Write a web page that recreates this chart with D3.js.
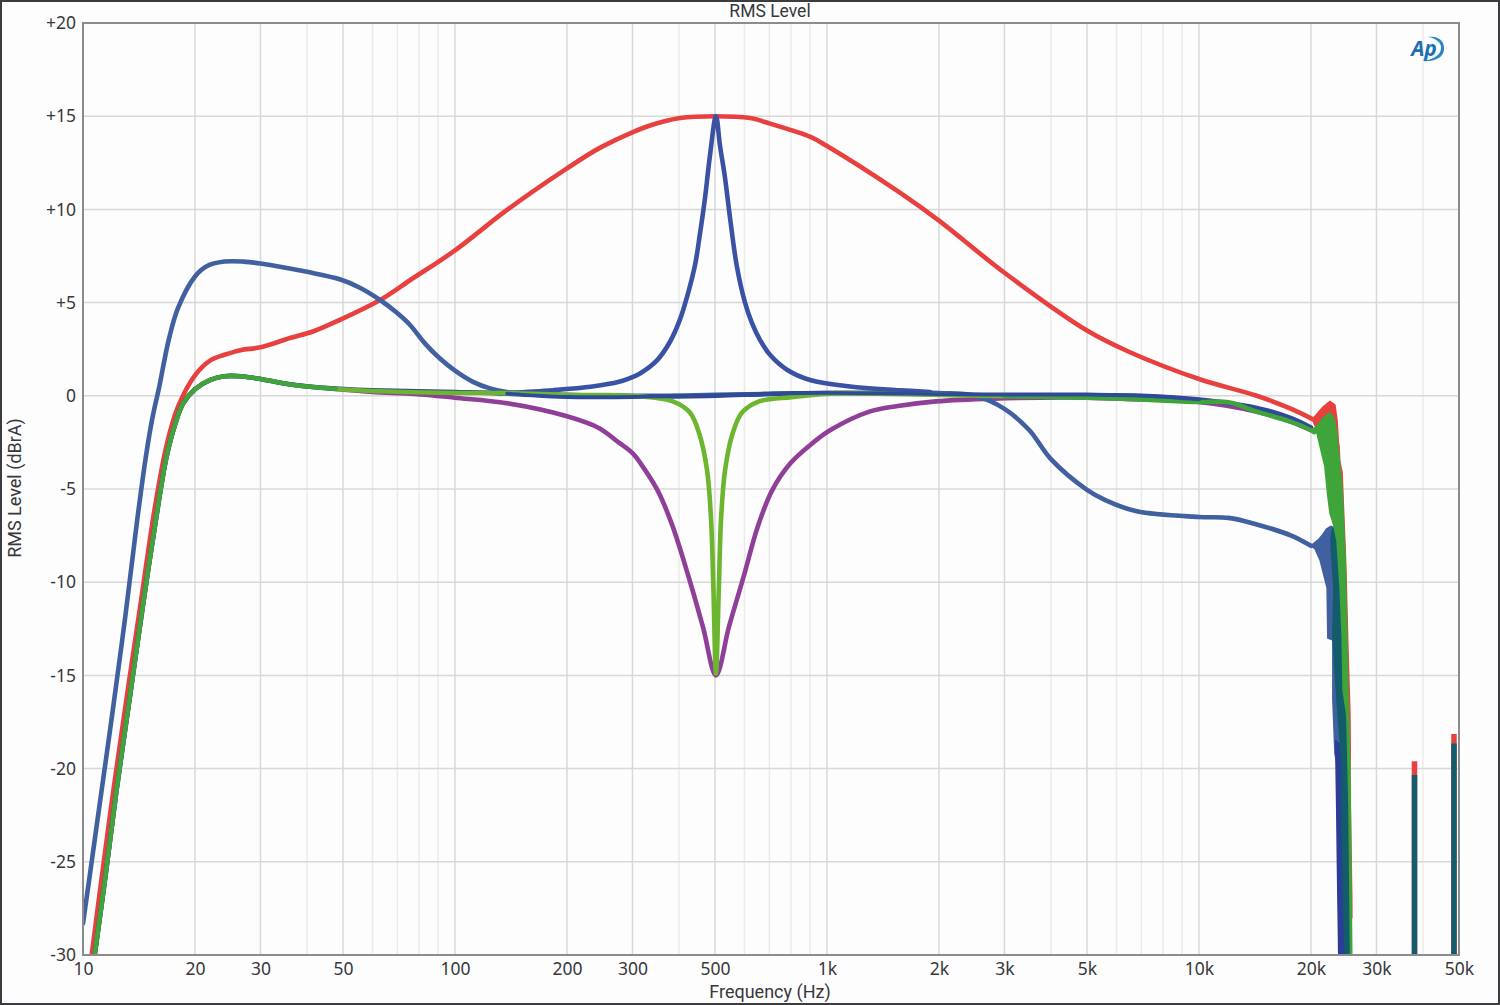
<!DOCTYPE html>
<html>
<head>
<meta charset="utf-8">
<title>RMS Level</title>
<script src="https://cdn.jsdelivr.net/npm/d3@7"></script>
<style>
  html, body { margin: 0; padding: 0; background: #fdfdfd; }
  svg { display: block; }
  text { font-family: "Noto Sans", "Open Sans", sans-serif; fill: #37373c; }
</style>
</head>
<body>
<svg id="chart" width="1500" height="1005"></svg>
<script>
// Axis ticks
const labelledFreqs = [10, 20, 30, 50, 100, 200, 300, 500, 1000, 2000, 3000, 5000, 10000, 20000, 30000, 50000];
const minorFreqs = [40, 60, 70, 80, 90, 400, 600, 700, 800, 900, 4000, 6000, 7000, 8000, 9000, 40000];
const levelTicks = [20, 15, 10, 5, 0, -5, -10, -15, -20, -25, -30];

// Bass and treble shelf trace
const shelfFreq = [10, 10.4, 11, 12, 13, 14, 14.8, 15.4, 16, 17, 18, 20, 21.5, 24, 27, 30, 40, 49, 55.5, 62.9, 69.8, 75.7, 83.1, 91.1, 100, 111.8, 124.2, 138, 200, 300, 500, 1000, 2000, 2500, 3000, 3500, 4000, 5000, 5600, 6800, 10000, 12000, 14300, 17700, 20000];
const shelfDb = [-28.3, -25.9, -22.4, -17, -11.8, -6.6, -3.1, -1.1, 0.4, 3, 4.7, 6.4, 6.95, 7.2, 7.2, 7.1, 6.65, 6.25, 5.8, 5.14, 4.45, 3.8, 2.8, 2, 1.35, 0.75, 0.4, 0.2, 0.05, 0, 0.05, 0.15, 0.15, 0, -0.7, -1.85, -3.4, -5.05, -5.6, -6.2, -6.5, -6.55, -6.9, -7.5, -8.05];

// Wide boost trace
const wideBoostFreq = [10.55, 11.2, 12.1, 13.1, 14.2, 15.6, 16.8, 18, 20, 22, 24, 26.5, 30, 36, 41.5, 49, 62.9, 75.7, 100, 138, 200, 245, 301, 334.4, 402.6, 500, 621, 702.7, 900, 1000, 1570, 2000, 3000, 5000, 6500, 10000, 14300, 17700, 20200];
const wideBoostDb = [-30, -26, -21, -16.2, -11.5, -6, -2.6, -0.6, 1.1, 1.9, 2.2, 2.45, 2.6, 3.1, 3.45, 4.07, 5.14, 6.2, 7.8, 9.97, 12.2, 13.3, 14.15, 14.5, 14.9, 15, 14.9, 14.6, 13.9, 13.4, 10.9, 9.4, 6.6, 3.5, 2.35, 0.9, 0, -0.7, -1.25];

// Narrow boost trace, joining the flat response on either side
const narrowBoostFreq = [138, 183, 234, 276, 295.4, 314.3, 349.1, 378.4, 402.6, 420.4, 441.7, 455.6, 469.9, 484.7, 503, 515.8, 531.9, 548.7, 572.9, 602, 628.6, 660.5, 702.7, 780.6, 900.2, 1153, 1571, 1892];
const narrowBoostDb = [0.15, 0.3, 0.5, 0.75, 0.95, 1.2, 1.9, 2.9, 4.1, 5.3, 7, 8.7, 10.6, 12.9, 15, 13.4, 11.7, 9.55, 6.9, 5, 3.9, 3, 2.2, 1.4, 0.85, 0.5, 0.3, 0.2];

// Wide cut trace
const wideCutFreq = [10.75, 11.45, 12.3, 13.4, 14.5, 16, 16.8, 17.9, 18.6, 20, 22, 24, 26.5, 30, 35.5, 41.5, 49, 60, 78, 100, 138, 200, 245, 271, 301, 316, 351, 383, 423, 464, 503, 545, 595, 652, 711, 795, 900, 1019, 1300, 1550, 1960, 2800, 5000, 7000, 10000, 14300, 17700, 20000];
const wideCutDb = [-30, -26, -21.2, -16, -11.2, -5.6, -3.2, -1.2, -0.4, 0.35, 0.85, 1.05, 1.05, 0.9, 0.63, 0.47, 0.35, 0.2, 0.1, -0.1, -0.4, -1.1, -1.75, -2.4, -3.1, -3.65, -5.1, -6.9, -9.6, -12.4, -15, -12.4, -9.8, -7, -5.1, -3.65, -2.65, -1.85, -0.85, -0.55, -0.3, -0.15, -0.1, -0.2, -0.33, -0.85, -1.4, -1.85];

// Flat reference trace
const flatFreq = [10.75, 11.45, 12.3, 13.4, 14.5, 16, 16.8, 17.9, 18.6, 20, 22, 24, 26.5, 30, 35.5, 41.5, 49, 60, 100, 138, 200, 300, 500, 700, 1000, 3000, 5000, 7000, 10000, 14300, 17700, 20000];
const flatDb = [-30, -26, -21.2, -16, -11.2, -5.6, -3.2, -1.2, -0.4, 0.35, 0.85, 1.05, 1.05, 0.9, 0.63, 0.47, 0.38, 0.3, 0.2, 0.12, -0.05, -0.05, 0, 0.1, 0.15, 0.05, 0.05, 0, -0.2, -0.65, -1.2, -1.7];
const flatTopFreq = [138, 200, 300, 500, 700, 1000, 3000, 5000, 7000, 10000];
const flatTopDb = [0.12, -0.05, -0.05, 0, 0.1, 0.15, 0.05, 0.05, 0, -0.2];

// Narrow cut trace, split where its colour shifts
const greenLowFreq = [10.75, 11.45, 12.3, 13.4, 14.5, 16, 16.8, 17.9, 18.6, 20, 22, 24, 26.5, 30, 35.5, 41.5, 49];
const greenLowDb = [-30, -26, -21.2, -16, -11.2, -5.6, -3.2, -1.2, -0.4, 0.35, 0.85, 1.05, 1.05, 0.9, 0.63, 0.47, 0.35];
const greenMidFreq = [49, 60, 100, 138, 207, 300, 385, 428, 453, 476, 488, 495, 503, 512, 519, 532, 558, 591, 657, 803, 1000, 1500, 2000, 3000];
const greenMidDb = [0.35, 0.26, 0.15, 0.15, 0.04, 0, -0.3, -0.9, -2, -4, -6.65, -10.3, -14.9, -10.3, -6.65, -4, -2, -0.9, -0.3, -0.07, 0.1, 0.1, 0.05, -0.02];
const greenHighFreq = [3000, 5000, 7000, 10000, 12000, 14300, 17700, 20000, 20400];
const greenHighDb = [-0.02, -0.1, -0.2, -0.33, -0.35, -0.85, -1.4, -1.85, -1.95];

// Outlines of the ripple where the traces fall away past 20 kHz
const redRippleFreq = [20.2, 21.55, 22.5, 23.2, 23.5, 23.7, 23.8, 23.9, 24.25, 24.4, 24.7, 24.85, 25.0, 25.1, 25.45, 25.5, 25.45, 25.75, 25.75, 25.3, 24.7, 24.0, 23.0, 21.5, 20.5];
const redRippleDb = [-1.25, -0.6, -0.3, -0.5, -1.3, -2.5, -2.7, -3.5, -4.1, -5.5, -8.1, -9.5, -11.7, -13, -17, -19, -20.6, -27, -28, -20, -10, -5, -3, -2.2, -1.6];
const shelfRippleFreq = [20.0, 20.4, 21.0, 21.6, 22.0, 22.6, 23.2, 24.5, 25.0, 25.15, 25.3, 25.0, 24.2, 23.2, 22.9, 22.9, 22.2, 22.1, 21.15, 20.5];
const shelfRippleDb = [-8.05, -7.9, -7.7, -7.4, -7.15, -7.0, -7.1, -12, -15, -17, -22, -22, -21, -19.2, -16.3, -13.1, -13, -10.3, -8.8, -8.2];
const navyRippleFreq = [23.3, 24.25, 24.25, 24.45, 24.75, 23.75, 23.55, 23.45];
const navyRippleDb = [-18.5, -18.8, -25, -27, -30, -30, -25, -22];
const tealRippleFreq = [22.9, 23.4, 24.5, 25.0, 25.45, 25.6, 24.7, 24.4, 24.25, 24.25, 23.5, 22.9, 23.05, 22.6];
const tealRippleDb = [-7.1, -7.1, -12, -18, -25, -30, -30, -26, -23.5, -20, -16.3, -12.9, -10.3, -7.7];
const greenRippleFreq = [20.0, 20.4, 20.75, 21.55, 22.5, 23.2, 23.5, 24.25, 24.7, 25.0, 25.15, 25.45, 25.75, 25.55, 25.3, 25.0, 24.9, 24.4, 24.25, 23.95, 23.5, 23.0, 22.5, 22.2, 21.8, 21.15, 20.75, 20.4];
const greenRippleDb = [-1.85, -1.75, -1.6, -1.2, -0.9, -1.3, -2.2, -4.9, -8.6, -13, -15.8, -20, -30, -30, -22, -17.5, -17, -15.8, -12.9, -10.3, -7.8, -6.9, -6.3, -5.4, -3.8, -2.7, -2.0, -1.9];

// Isolated out-of-band components
const spikeFreq = [37960, 48470];
const spikeRedDb = [-19.6, -18.15];
const spikeTealDb = [-20.35, -18.65];
const floorDb = -30;

const colors = {
  red: "#e8403f", shelf: "#41609f", boost: "#3a52a4", purple: "#8f3f97",
  navy: "#2f4a97", greenMid: "#6cb52e", greenDark: "#3fa53a",
  teal: "#135c6c", deepNavy: "#2b3d96"
};

const svg = d3.select("#chart");
const plot = { left: 83, right: 1459, top: 23, bottom: 955 };

const x = d3.scaleLog().domain([10, 50000]).range([plot.left, plot.right]);
const y = d3.scaleLinear().domain([-30, 20]).range([plot.bottom, plot.top]);

// Outer window border
svg.append("rect").attr("x", 1).attr("y", 1).attr("width", 1498).attr("height", 1003)
  .attr("fill", "#fdfdfd").attr("stroke", "#3c3c40").attr("stroke-width", 2);

// Grid
const grid = svg.append("g");
grid.selectAll(".minor").data(minorFreqs).join("line").attr("class", "minor")
  .attr("x1", d => x(d)).attr("x2", d => x(d)).attr("y1", plot.top).attr("y2", plot.bottom)
  .attr("stroke", "#ebebeb").attr("stroke-width", 1.5);
grid.selectAll(".major").data(labelledFreqs).join("line").attr("class", "major")
  .attr("x1", d => x(d)).attr("x2", d => x(d)).attr("y1", plot.top).attr("y2", plot.bottom)
  .attr("stroke", "#d8d8d8").attr("stroke-width", 1.5);
grid.selectAll(".level").data(levelTicks).join("line").attr("class", "level")
  .attr("x1", plot.left).attr("x2", plot.right).attr("y1", d => y(d)).attr("y2", d => y(d))
  .attr("stroke", "#d8d8d8").attr("stroke-width", 1.5);

// Axes
const freqLabel = d => d >= 1000 ? (d / 1000) + "k" : String(d);
const levelLabel = d => d > 0 ? "+" + d : String(d);

const xAxis = svg.append("g").attr("transform", `translate(0,${plot.bottom})`)
  .call(d3.axisBottom(x).tickValues(labelledFreqs).tickFormat(freqLabel).tickSize(0).tickPadding(8));
const yAxis = svg.append("g").attr("transform", `translate(${plot.left},0)`)
  .call(d3.axisLeft(y).tickValues(levelTicks).tickFormat(levelLabel).tickSize(0).tickPadding(7));
[xAxis, yAxis].forEach(a => {
  a.select(".domain").remove();
  a.selectAll("text").style("font-family", '"Noto Sans", sans-serif').style("font-size", "17.5px").attr("fill", "#37373c");
});

// Traces
svg.append("clipPath").attr("id", "plotArea").append("rect")
  .attr("x", plot.left).attr("y", plot.top).attr("width", plot.right - plot.left).attr("height", plot.bottom - plot.top);
const marks = svg.append("g").attr("clip-path", "url(#plotArea)");

const traceLine = d3.line().x(d => x(d[0])).y(d => y(d[1])).curve(d3.curveCatmullRom.alpha(0.5));
const outline = d3.line().x(d => x(d[0] * 1000)).y(d => y(d[1])).curve(d3.curveLinearClosed);

const drawTrace = (freqs, dbs, color, width = 4.6) => marks.append("path")
  .datum(d3.zip(freqs, dbs)).attr("d", traceLine)
  .attr("fill", "none").attr("stroke", color).attr("stroke-width", width)
  .attr("stroke-linejoin", "round").attr("stroke-linecap", "round");
const drawRipple = (freqs, dbs, color) => marks.append("path")
  .datum(d3.zip(freqs, dbs)).attr("d", outline)
  .attr("fill", color).attr("stroke", color).attr("stroke-width", 1.5).attr("stroke-linejoin", "round");

drawTrace(wideBoostFreq, wideBoostDb, colors.red);
drawRipple(redRippleFreq, redRippleDb, colors.red);
drawTrace(wideCutFreq, wideCutDb, colors.purple);
drawTrace(shelfFreq, shelfDb, colors.shelf);
drawRipple(shelfRippleFreq, shelfRippleDb, colors.shelf);
drawTrace(narrowBoostFreq, narrowBoostDb, colors.boost);
drawTrace(flatFreq, flatDb, colors.navy);
drawRipple(navyRippleFreq, navyRippleDb, colors.deepNavy);
drawRipple(tealRippleFreq, tealRippleDb, colors.teal);
drawTrace(greenLowFreq, greenLowDb, colors.greenDark);
drawTrace(greenMidFreq, greenMidDb, colors.greenMid);
drawTrace(greenHighFreq, greenHighDb, colors.greenDark);
drawRipple(greenRippleFreq, greenRippleDb, colors.greenDark);
drawTrace(flatTopFreq, flatTopDb, colors.navy, 3.4);

// Out-of-band spikes
const drawSpikes = (tops, color) => marks.selectAll(null).data(d3.zip(spikeFreq, tops)).join("line")
  .attr("x1", d => x(d[0])).attr("x2", d => x(d[0]))
  .attr("y1", d => y(d[1])).attr("y2", y(floorDb))
  .attr("stroke", color).attr("stroke-width", 5.5);
drawSpikes(spikeRedDb, colors.red);
drawSpikes(spikeTealDb, colors.teal);

// Plot frame
svg.append("rect").attr("x", plot.left).attr("y", plot.top)
  .attr("width", plot.right - plot.left).attr("height", plot.bottom - plot.top)
  .attr("fill", "none").attr("stroke", "#8c8c8c").attr("stroke-width", 2);

// Titles
const titleFont = "Roboto, sans-serif";
svg.append("text").attr("x", 770).attr("y", 16.5).attr("text-anchor", "middle")
  .style("font-family", titleFont).style("font-size", "17.5px").text("RMS Level");
svg.append("text").attr("x", 770).attr("y", 997.5).attr("text-anchor", "middle")
  .style("font-family", titleFont).style("font-size", "18px").text("Frequency (Hz)");
svg.append("text").attr("transform", "translate(21,488) rotate(-90)").attr("text-anchor", "middle")
  .style("font-family", titleFont).style("font-size", "18px").text("RMS Level (dBrA)");

// Logo mark
const logo = svg.append("g").attr("transform", "translate(1426,49)");
logo.append("path")
  .attr("d", "M 2 -12 C 14 -14 19 -6 18 1 C 17 9 8 13 -4 12 C 6 11 14 7 15 0 C 16 -6 10 -11 2 -12 Z")
  .attr("fill", "#2a86c4");
logo.append("text").attr("x", -2).attr("y", 7).attr("text-anchor", "middle")
  .style("font-size", "21px").style("font-weight", "700").style("font-style", "italic")
  .style("fill", "#1b6fb2").text("Ap");
</script>
</body>
</html>
